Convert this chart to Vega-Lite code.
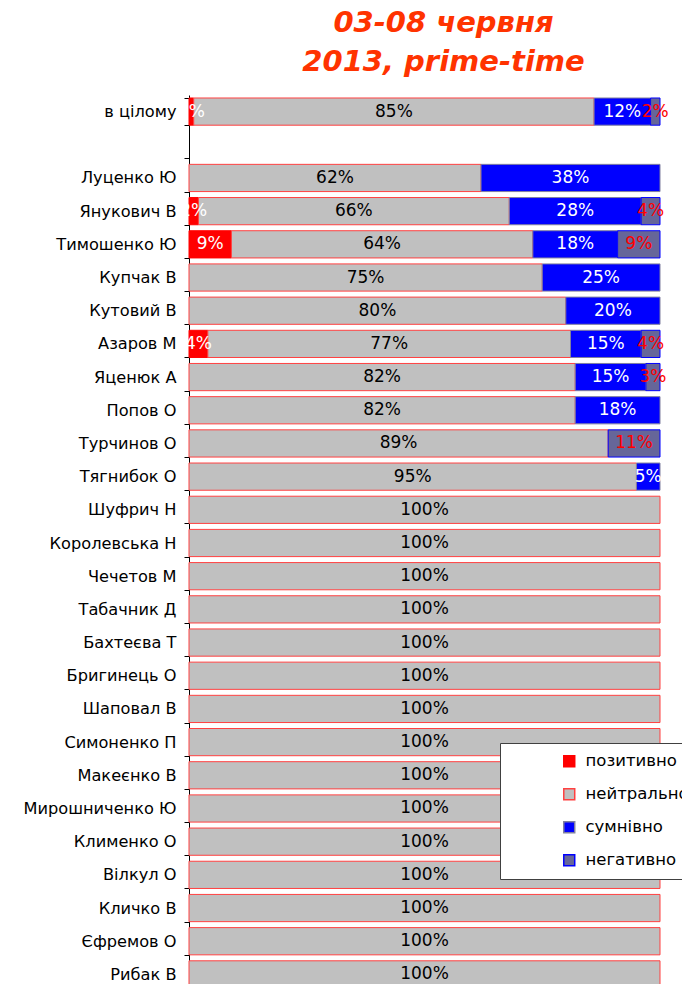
{
  "$schema": "https://vega.github.io/schema/vega-lite/v6.json",
  "autosize": {"type": "none"},
  "padding": {"left": 189, "top": 95, "right": 22, "bottom": 0},
  "width": 471,
  "height": 896,
  "background": "white",
  "title": {
    "text": ["03-08 червня", "2013, prime-time"],
    "font": "DejaVu Sans",
    "fontSize": 29,
    "fontWeight": "bold",
    "fontStyle": "italic",
    "color": "#ff3300",
    "anchor": "middle",
    "dx": 19,
    "offset": 10,
    "lineHeight": 39
  },
  "config": {
    "view": {"stroke": null},
    "font": "DejaVu Sans"
  },
  "data": {
    "values": [
      {"name": "в цілому", "cat": "позитивно", "o": 1, "v": 0.01},
      {"name": "в цілому", "cat": "нейтрально", "o": 2, "v": 0.85},
      {"name": "в цілому", "cat": "сумнівно", "o": 3, "v": 0.12},
      {"name": "в цілому", "cat": "негативно", "o": 4, "v": 0.02},
      {"name": "Луценко Ю", "cat": "нейтрально", "o": 2, "v": 0.62},
      {"name": "Луценко Ю", "cat": "сумнівно", "o": 3, "v": 0.38},
      {"name": "Янукович В", "cat": "позитивно", "o": 1, "v": 0.02},
      {"name": "Янукович В", "cat": "нейтрально", "o": 2, "v": 0.66},
      {"name": "Янукович В", "cat": "сумнівно", "o": 3, "v": 0.28},
      {"name": "Янукович В", "cat": "негативно", "o": 4, "v": 0.04},
      {"name": "Тимошенко Ю", "cat": "позитивно", "o": 1, "v": 0.09},
      {"name": "Тимошенко Ю", "cat": "нейтрально", "o": 2, "v": 0.64},
      {"name": "Тимошенко Ю", "cat": "сумнівно", "o": 3, "v": 0.18},
      {"name": "Тимошенко Ю", "cat": "негативно", "o": 4, "v": 0.09},
      {"name": "Купчак В", "cat": "нейтрально", "o": 2, "v": 0.75},
      {"name": "Купчак В", "cat": "сумнівно", "o": 3, "v": 0.25},
      {"name": "Кутовий В", "cat": "нейтрально", "o": 2, "v": 0.80},
      {"name": "Кутовий В", "cat": "сумнівно", "o": 3, "v": 0.20},
      {"name": "Азаров М", "cat": "позитивно", "o": 1, "v": 0.04},
      {"name": "Азаров М", "cat": "нейтрально", "o": 2, "v": 0.77},
      {"name": "Азаров М", "cat": "сумнівно", "o": 3, "v": 0.15},
      {"name": "Азаров М", "cat": "негативно", "o": 4, "v": 0.04},
      {"name": "Яценюк А", "cat": "нейтрально", "o": 2, "v": 0.82},
      {"name": "Яценюк А", "cat": "сумнівно", "o": 3, "v": 0.15},
      {"name": "Яценюк А", "cat": "негативно", "o": 4, "v": 0.03},
      {"name": "Попов О", "cat": "нейтрально", "o": 2, "v": 0.82},
      {"name": "Попов О", "cat": "сумнівно", "o": 3, "v": 0.18},
      {"name": "Турчинов О", "cat": "нейтрально", "o": 2, "v": 0.89},
      {"name": "Турчинов О", "cat": "негативно", "o": 4, "v": 0.11},
      {"name": "Тягнибок О", "cat": "нейтрально", "o": 2, "v": 0.95},
      {"name": "Тягнибок О", "cat": "сумнівно", "o": 3, "v": 0.05},
      {"name": "Шуфрич Н", "cat": "нейтрально", "o": 2, "v": 1.0},
      {"name": "Королевська Н", "cat": "нейтрально", "o": 2, "v": 1.0},
      {"name": "Чечетов М", "cat": "нейтрально", "o": 2, "v": 1.0},
      {"name": "Табачник Д", "cat": "нейтрально", "o": 2, "v": 1.0},
      {"name": "Бахтеєва Т", "cat": "нейтрально", "o": 2, "v": 1.0},
      {"name": "Бригинець О", "cat": "нейтрально", "o": 2, "v": 1.0},
      {"name": "Шаповал В", "cat": "нейтрально", "o": 2, "v": 1.0},
      {"name": "Симоненко П", "cat": "нейтрально", "o": 2, "v": 1.0},
      {"name": "Макеєнко В", "cat": "нейтрально", "o": 2, "v": 1.0},
      {"name": "Мирошниченко Ю", "cat": "нейтрально", "o": 2, "v": 1.0},
      {"name": "Клименко О", "cat": "нейтрально", "o": 2, "v": 1.0},
      {"name": "Вілкул О", "cat": "нейтрально", "o": 2, "v": 1.0},
      {"name": "Кличко В", "cat": "нейтрально", "o": 2, "v": 1.0},
      {"name": "Єфремов О", "cat": "нейтрально", "o": 2, "v": 1.0},
      {"name": "Рибак В", "cat": "нейтрально", "o": 2, "v": 1.0}
    ]
  },
  "encoding": {
    "y": {
      "field": "name",
      "type": "nominal",
      "sort": null,
      "scale": {
        "domain": ["в цілому", " ", "Луценко Ю", "Янукович В", "Тимошенко Ю", "Купчак В", "Кутовий В", "Азаров М", "Яценюк А", "Попов О", "Турчинов О", "Тягнибок О", "Шуфрич Н", "Королевська Н", "Чечетов М", "Табачник Д", "Бахтеєва Т", "Бригинець О", "Шаповал В", "Симоненко П", "Макеєнко В", "Мирошниченко Ю", "Клименко О", "Вілкул О", "Кличко В", "Єфремов О", "Рибак В"],
        "paddingInner": 0.18,
        "paddingOuter": 0.09
      },
      "axis": {
        "title": null,
        "domainColor": "black",
        "tickColor": "black",
        "tickSize": 5,
        "tickBand": "extent",
        "labelFontSize": 16.2,
        "labelColor": "black",
        "labelPadding": 8,
        "labelFont": "DejaVu Sans"
      }
    }
  },
  "layer": [
    {
      "mark": {"type": "bar", "strokeWidth": 1},
      "encoding": {
        "x": {
          "field": "v",
          "type": "quantitative",
          "stack": "zero",
          "scale": {"domain": [0, 1], "nice": false},
          "axis": null
        },
        "order": {"field": "o", "type": "quantitative"},
        "fill": {
          "field": "cat",
          "type": "nominal",
          "scale": {
            "domain": ["позитивно", "нейтрально", "сумнівно", "негативно"],
            "range": ["#ff0000", "#c0c0c0", "#0000ff", "#666699"]
          },
          "legend": {
            "orient": "none",
            "legendX": 311,
            "legendY": 648,
            "title": null,
            "fillColor": "white",
            "strokeColor": "#404040",
            "padding": 10,
            "symbolType": "square",
            "symbolSize": 120,
            "symbolStrokeWidth": 1.5,
            "symbolOffset": 51,
            "labelFontSize": 16.5,
            "labelColor": "black",
            "labelFont": "DejaVu Sans",
            "labelOffset": 8,
            "rowPadding": 15,
            "labelLimit": 300
          }
        },
        "stroke": {
          "field": "cat",
          "type": "nominal",
          "scale": {
            "domain": ["позитивно", "нейтрально", "сумнівно", "негативно"],
            "range": ["#ff0000", "#ff4040", "#8080a0", "#0000ff"]
          },
          "legend": {
            "orient": "none",
            "legendX": 311,
            "legendY": 648,
            "title": null,
            "fillColor": "white",
            "strokeColor": "#404040",
            "padding": 10,
            "symbolType": "square",
            "symbolSize": 120,
            "symbolStrokeWidth": 1.5,
            "symbolOffset": 51,
            "labelFontSize": 16.5,
            "labelColor": "black",
            "labelFont": "DejaVu Sans",
            "labelOffset": 8,
            "rowPadding": 15,
            "labelLimit": 300
          }
        }
      }
    },
    {
      "mark": {"type": "text", "fontSize": 17, "font": "DejaVu Sans", "baseline": "middle", "align": "center"},
      "encoding": {
        "x": {
          "field": "v",
          "type": "quantitative",
          "stack": "zero",
          "bandPosition": 0.5,
          "scale": {"domain": [0, 1], "nice": false}
        },
        "order": {"field": "o", "type": "quantitative"},
        "detail": {"field": "cat", "type": "nominal"},
        "text": {"field": "v", "type": "quantitative", "format": ".0%"},
        "color": {
          "field": "cat",
          "type": "nominal",
          "scale": {
            "domain": ["позитивно", "нейтрально", "сумнівно", "негативно"],
            "range": ["#ffffff", "#000000", "#ffffff", "#ff0000"]
          },
          "legend": null
        }
      }
    }
  ]
}
